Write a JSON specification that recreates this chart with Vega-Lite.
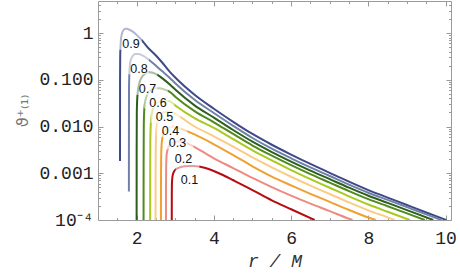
{
  "$schema": "https://vega.github.io/schema/vega-lite/v6.json",
  "autosize": "none",
  "width": 353,
  "height": 219,
  "padding": {"left": 98, "top": 1, "right": 9, "bottom": 53},
  "background": "white",
  "config": {
    "view": {"stroke": "#9a9a9a", "strokeWidth": 1},
    "axis": {"domain": false, "grid": false, "tickColor": "#9a9a9a", "tickWidth": 1}
  },
  "datasets": {
    "curves": [
      {"a": "0.9", "r": 1.57, "v": 0.00182}, {"a": "0.9", "r": 1.571, "v": 0.1}, {"a": "0.9", "r": 1.575, "v": 0.316}, {"a": "0.9", "r": 1.585, "v": 0.562}, {"a": "0.9", "r": 1.6, "v": 0.794}, {"a": "0.9", "r": 1.625, "v": 1.0}, {"a": "0.9", "r": 1.66, "v": 1.148}, {"a": "0.9", "r": 1.7, "v": 1.23}, {"a": "0.9", "r": 1.75, "v": 1.23}, {"a": "0.9", "r": 1.8, "v": 1.189}, {"a": "0.9", "r": 1.9, "v": 1.072}, {"a": "0.9", "r": 2.0, "v": 0.912}, {"a": "0.9", "r": 2.15, "v": 0.676}, {"a": "0.9", "r": 2.3, "v": 0.479}, {"a": "0.9", "r": 2.5, "v": 0.331}, {"a": "0.9", "r": 2.65, "v": 0.24}, {"a": "0.9", "r": 2.86, "v": 0.148}, {"a": "0.9", "r": 3.0, "v": 0.112}, {"a": "0.9", "r": 3.5, "v": 0.0479}, {"a": "0.9", "r": 4.0, "v": 0.024}, {"a": "0.9", "r": 4.5, "v": 0.0126}, {"a": "0.9", "r": 5.0, "v": 0.00692}, {"a": "0.9", "r": 5.5, "v": 0.00407}, {"a": "0.9", "r": 6.0, "v": 0.00251}, {"a": "0.9", "r": 6.5, "v": 0.00158}, {"a": "0.9", "r": 7.0, "v": 0.00102}, {"a": "0.9", "r": 7.5, "v": 0.000661}, {"a": "0.9", "r": 8.0, "v": 0.000437}, {"a": "0.9", "r": 8.5, "v": 0.000302}, {"a": "0.9", "r": 9.0, "v": 0.000209}, {"a": "0.9", "r": 9.5, "v": 0.000145}, {"a": "0.9", "r": 10.02, "v": 0.0001},
      {"a": "0.8", "r": 1.8, "v": 0.000407}, {"a": "0.8", "r": 1.801, "v": 0.01}, {"a": "0.8", "r": 1.803, "v": 0.0631}, {"a": "0.8", "r": 1.815, "v": 0.158}, {"a": "0.8", "r": 1.84, "v": 0.251}, {"a": "0.8", "r": 1.9, "v": 0.324}, {"a": "0.8", "r": 1.97, "v": 0.355}, {"a": "0.8", "r": 2.05, "v": 0.355}, {"a": "0.8", "r": 2.15, "v": 0.331}, {"a": "0.8", "r": 2.3, "v": 0.275}, {"a": "0.8", "r": 2.5, "v": 0.1995}, {"a": "0.8", "r": 2.65, "v": 0.155}, {"a": "0.8", "r": 2.86, "v": 0.1096}, {"a": "0.8", "r": 3.0, "v": 0.0841}, {"a": "0.8", "r": 3.5, "v": 0.0373}, {"a": "0.8", "r": 4.0, "v": 0.01945}, {"a": "0.8", "r": 4.5, "v": 0.01033}, {"a": "0.8", "r": 5.0, "v": 0.00568}, {"a": "0.8", "r": 5.5, "v": 0.00335}, {"a": "0.8", "r": 6.0, "v": 0.00209}, {"a": "0.8", "r": 6.5, "v": 0.001337}, {"a": "0.8", "r": 7.0, "v": 0.000875}, {"a": "0.8", "r": 7.5, "v": 0.000571}, {"a": "0.8", "r": 8.0, "v": 0.000383}, {"a": "0.8", "r": 8.5, "v": 0.000269}, {"a": "0.8", "r": 9.0, "v": 0.000188}, {"a": "0.8", "r": 9.5, "v": 0.000132}, {"a": "0.8", "r": 9.89, "v": 0.0001},
      {"a": "0.7", "r": 2.0, "v": 0.0001}, {"a": "0.7", "r": 2.001, "v": 0.00316}, {"a": "0.7", "r": 2.005, "v": 0.01995}, {"a": "0.7", "r": 2.02, "v": 0.0447}, {"a": "0.7", "r": 2.06, "v": 0.0794}, {"a": "0.7", "r": 2.13, "v": 0.112}, {"a": "0.7", "r": 2.22, "v": 0.135}, {"a": "0.7", "r": 2.32, "v": 0.1445}, {"a": "0.7", "r": 2.42, "v": 0.141}, {"a": "0.7", "r": 2.55, "v": 0.126}, {"a": "0.7", "r": 2.7, "v": 0.102}, {"a": "0.7", "r": 2.86, "v": 0.0794}, {"a": "0.7", "r": 3.0, "v": 0.0617}, {"a": "0.7", "r": 3.5, "v": 0.0284}, {"a": "0.7", "r": 4.0, "v": 0.0155}, {"a": "0.7", "r": 4.5, "v": 0.00841}, {"a": "0.7", "r": 5.0, "v": 0.00473}, {"a": "0.7", "r": 5.5, "v": 0.00284}, {"a": "0.7", "r": 6.0, "v": 0.00178}, {"a": "0.7", "r": 6.5, "v": 0.00114}, {"a": "0.7", "r": 7.0, "v": 0.000748}, {"a": "0.7", "r": 7.5, "v": 0.000491}, {"a": "0.7", "r": 8.0, "v": 0.00033}, {"a": "0.7", "r": 8.5, "v": 0.000232}, {"a": "0.7", "r": 9.0, "v": 0.000163}, {"a": "0.7", "r": 9.68, "v": 0.0001},
      {"a": "0.6", "r": 2.18, "v": 0.0001}, {"a": "0.6", "r": 2.181, "v": 0.00158}, {"a": "0.6", "r": 2.185, "v": 0.01}, {"a": "0.6", "r": 2.2, "v": 0.024}, {"a": "0.6", "r": 2.24, "v": 0.0398}, {"a": "0.6", "r": 2.31, "v": 0.0537}, {"a": "0.6", "r": 2.4, "v": 0.0631}, {"a": "0.6", "r": 2.5, "v": 0.0661}, {"a": "0.6", "r": 2.6, "v": 0.0661}, {"a": "0.6", "r": 2.72, "v": 0.0617}, {"a": "0.6", "r": 2.86, "v": 0.055}, {"a": "0.6", "r": 3.0, "v": 0.0434}, {"a": "0.6", "r": 3.5, "v": 0.0214}, {"a": "0.6", "r": 4.0, "v": 0.0123}, {"a": "0.6", "r": 4.5, "v": 0.00692}, {"a": "0.6", "r": 5.0, "v": 0.00392}, {"a": "0.6", "r": 5.5, "v": 0.00238}, {"a": "0.6", "r": 6.0, "v": 0.00149}, {"a": "0.6", "r": 6.5, "v": 0.000959}, {"a": "0.6", "r": 7.0, "v": 0.000631}, {"a": "0.6", "r": 7.5, "v": 0.000415}, {"a": "0.6", "r": 8.0, "v": 0.000279}, {"a": "0.6", "r": 8.5, "v": 0.000197}, {"a": "0.6", "r": 9.0, "v": 0.000139}, {"a": "0.6", "r": 9.46, "v": 0.0001},
      {"a": "0.5", "r": 2.35, "v": 0.0001}, {"a": "0.5", "r": 2.351, "v": 0.001}, {"a": "0.5", "r": 2.355, "v": 0.00501}, {"a": "0.5", "r": 2.37, "v": 0.0126}, {"a": "0.5", "r": 2.41, "v": 0.0219}, {"a": "0.5", "r": 2.48, "v": 0.0295}, {"a": "0.5", "r": 2.57, "v": 0.0339}, {"a": "0.5", "r": 2.67, "v": 0.0355}, {"a": "0.5", "r": 2.77, "v": 0.0355}, {"a": "0.5", "r": 2.86, "v": 0.0347}, {"a": "0.5", "r": 3.0, "v": 0.0282}, {"a": "0.5", "r": 3.5, "v": 0.0151}, {"a": "0.5", "r": 4.0, "v": 0.00933}, {"a": "0.5", "r": 4.5, "v": 0.00537}, {"a": "0.5", "r": 5.0, "v": 0.00309}, {"a": "0.5", "r": 5.5, "v": 0.00189}, {"a": "0.5", "r": 6.0, "v": 0.00117}, {"a": "0.5", "r": 6.5, "v": 0.00075}, {"a": "0.5", "r": 7.0, "v": 0.00049}, {"a": "0.5", "r": 7.5, "v": 0.00032}, {"a": "0.5", "r": 8.0, "v": 0.000214}, {"a": "0.5", "r": 8.5, "v": 0.00015}, {"a": "0.5", "r": 9.07, "v": 0.0001},
      {"a": "0.4", "r": 2.49, "v": 0.0001}, {"a": "0.4", "r": 2.491, "v": 0.000794}, {"a": "0.4", "r": 2.495, "v": 0.00316}, {"a": "0.4", "r": 2.51, "v": 0.00794}, {"a": "0.4", "r": 2.55, "v": 0.0135}, {"a": "0.4", "r": 2.62, "v": 0.0178}, {"a": "0.4", "r": 2.71, "v": 0.01995}, {"a": "0.4", "r": 2.8, "v": 0.0209}, {"a": "0.4", "r": 2.9, "v": 0.0204}, {"a": "0.4", "r": 3.0, "v": 0.0186}, {"a": "0.4", "r": 3.5, "v": 0.01}, {"a": "0.4", "r": 4.0, "v": 0.00617}, {"a": "0.4", "r": 4.5, "v": 0.00372}, {"a": "0.4", "r": 5.0, "v": 0.00219}, {"a": "0.4", "r": 5.5, "v": 0.001337}, {"a": "0.4", "r": 6.0, "v": 0.000843}, {"a": "0.4", "r": 6.5, "v": 0.000545}, {"a": "0.4", "r": 7.0, "v": 0.00036}, {"a": "0.4", "r": 7.5, "v": 0.000238}, {"a": "0.4", "r": 8.0, "v": 0.000161}, {"a": "0.4", "r": 8.5, "v": 0.000114}, {"a": "0.4", "r": 8.68, "v": 0.0001},
      {"a": "0.3", "r": 2.63, "v": 0.0001}, {"a": "0.3", "r": 2.631, "v": 0.000631}, {"a": "0.3", "r": 2.635, "v": 0.002}, {"a": "0.3", "r": 2.65, "v": 0.00447}, {"a": "0.3", "r": 2.7, "v": 0.00724}, {"a": "0.3", "r": 2.77, "v": 0.00891}, {"a": "0.3", "r": 2.86, "v": 0.00977}, {"a": "0.3", "r": 2.95, "v": 0.01}, {"a": "0.3", "r": 3.05, "v": 0.00955}, {"a": "0.3", "r": 3.5, "v": 0.00676}, {"a": "0.3", "r": 4.0, "v": 0.00417}, {"a": "0.3", "r": 4.5, "v": 0.00245}, {"a": "0.3", "r": 5.0, "v": 0.00141}, {"a": "0.3", "r": 5.5, "v": 0.000851}, {"a": "0.3", "r": 6.0, "v": 0.00055}, {"a": "0.3", "r": 6.5, "v": 0.000363}, {"a": "0.3", "r": 7.0, "v": 0.000244}, {"a": "0.3", "r": 7.5, "v": 0.000164}, {"a": "0.3", "r": 8.0, "v": 0.000113}, {"a": "0.3", "r": 8.19, "v": 0.0001},
      {"a": "0.2", "r": 2.76, "v": 0.0001}, {"a": "0.2", "r": 2.761, "v": 0.000501}, {"a": "0.2", "r": 2.765, "v": 0.00141}, {"a": "0.2", "r": 2.78, "v": 0.00263}, {"a": "0.2", "r": 2.83, "v": 0.00372}, {"a": "0.2", "r": 2.9, "v": 0.00437}, {"a": "0.2", "r": 3.0, "v": 0.00468}, {"a": "0.2", "r": 3.12, "v": 0.00479}, {"a": "0.2", "r": 3.25, "v": 0.00457}, {"a": "0.2", "r": 3.5, "v": 0.00363}, {"a": "0.2", "r": 4.0, "v": 0.00209}, {"a": "0.2", "r": 4.5, "v": 0.00129}, {"a": "0.2", "r": 5.0, "v": 0.000794}, {"a": "0.2", "r": 5.5, "v": 0.000505}, {"a": "0.2", "r": 6.0, "v": 0.000331}, {"a": "0.2", "r": 6.5, "v": 0.000224}, {"a": "0.2", "r": 7.0, "v": 0.000155}, {"a": "0.2", "r": 7.5, "v": 0.000106}, {"a": "0.2", "r": 7.59, "v": 0.0001},
      {"a": "0.1", "r": 2.91, "v": 0.0001}, {"a": "0.1", "r": 2.911, "v": 0.000316}, {"a": "0.1", "r": 2.915, "v": 0.000631}, {"a": "0.1", "r": 2.94, "v": 0.000955}, {"a": "0.1", "r": 3.0, "v": 0.001175}, {"a": "0.1", "r": 3.1, "v": 0.001318}, {"a": "0.1", "r": 3.25, "v": 0.001413}, {"a": "0.1", "r": 3.45, "v": 0.001429}, {"a": "0.1", "r": 3.65, "v": 0.00138}, {"a": "0.1", "r": 3.9, "v": 0.0012}, {"a": "0.1", "r": 4.16, "v": 0.000977}, {"a": "0.1", "r": 4.5, "v": 0.000708}, {"a": "0.1", "r": 5.0, "v": 0.000437}, {"a": "0.1", "r": 5.5, "v": 0.000263}, {"a": "0.1", "r": 6.0, "v": 0.00017}, {"a": "0.1", "r": 6.61, "v": 0.0001}
    ],
    "labels": [
      {"a": "0.9", "r": 1.854, "v": 0.582},
      {"a": "0.8", "r": 2.061, "v": 0.174},
      {"a": "0.7", "r": 2.281, "v": 0.0634},
      {"a": "0.6", "r": 2.552, "v": 0.0326},
      {"a": "0.5", "r": 2.72, "v": 0.01596},
      {"a": "0.4", "r": 2.876, "v": 0.00801},
      {"a": "0.3", "r": 3.057, "v": 0.00433},
      {"a": "0.2", "r": 3.212, "v": 0.00202},
      {"a": "0.1", "r": 3.367, "v": 0.000735}
    ],
    "halos": [
      {"a": "0.9", "r": 1.828, "v": 0.782},
      {"a": "0.8", "r": 2.01, "v": 0.234},
      {"a": "0.7", "r": 2.23, "v": 0.0851},
      {"a": "0.6", "r": 2.501, "v": 0.0438},
      {"a": "0.5", "r": 2.67, "v": 0.0215},
      {"a": "0.4", "r": 2.825, "v": 0.01076},
      {"a": "0.3", "r": 3.006, "v": 0.00582},
      {"a": "0.2", "r": 3.162, "v": 0.00271},
      {"a": "0.1", "r": 3.317, "v": 0.000988}
    ]
  },
  "resolve": {"axis": {"x": "independent", "y": "independent"}},
  "layer": [
    {
      "data": {"name": "curves"},
      "mark": {"type": "line", "strokeWidth": 2, "clip": true, "interpolate": "monotone"},
      "encoding": {
        "x": {"field": "r", "type": "quantitative",
              "scale": {"domain": [1, 10.14], "nice": false, "zero": false},
              "axis": {"orient": "bottom", "values": [2, 4, 6, 8, 10], "tickSize": -5, "labelPadding": 14,
                       "labelFont": "Liberation Mono", "labelFontSize": 18, "labelColor": "#222",
                       "title": "r / M", "titleFont": "Liberation Mono", "titleFontStyle": "italic", "titleFontWeight": "normal",
                       "titleFontSize": 18, "titleColor": "#333", "titlePadding": 5}},
        "y": {"field": "v", "type": "quantitative",
              "scale": {"type": "log", "domain": [0.0001, 4.84], "nice": false},
              "axis": {"orient": "left", "values": [0.0001, 0.001, 0.01, 0.1, 1], "tickSize": -5, "labelPadding": 10,
                       "labelFont": "Liberation Mono", "labelFontSize": 18, "labelColor": "#222",
                       "labelExpr": "datum.value >= 0.99 ? '1' : datum.value >= 0.099 ? '0.100' : datum.value >= 0.0099 ? '0.010' : datum.value >= 0.00099 ? '0.001' : '10⁻⁴'",
                       "title": "ϑ⁺₍₁₎", "titleFont": "DejaVu Sans", "titleFontWeight": "normal", "titleFontSize": 16,
                       "titleColor": "#777", "titlePadding": 8}},
        "color": {"field": "a", "type": "nominal", "legend": null,
                  "scale": {"domain": ["0.1", "0.2", "0.3", "0.4", "0.5", "0.6", "0.7", "0.8", "0.9"],
                            "range": ["#b40c10", "#ef8a80", "#f0a030", "#fccb85", "#aac820", "#4f8a1c", "#2d5e1e", "#7080a8", "#3e4a88"]}}
      }
    },
    {
      "data": {"name": "halos"},
      "mark": {"type": "point", "shape": "square", "filled": true, "size": 560, "color": "white", "opacity": 0.6, "strokeWidth": 0},
      "encoding": {
        "x": {"field": "r", "type": "quantitative", "axis": null},
        "y": {"field": "v", "type": "quantitative", "axis": null}
      }
    },
    {
      "data": {"name": "labels"},
      "mark": {"type": "text", "font": "Liberation Sans", "fontSize": 12.5, "color": "#111"},
      "encoding": {
        "x": {"field": "r", "type": "quantitative",
              "axis": {"orient": "bottom", "values": [1.5, 2.5, 3, 3.5, 4.5, 5, 5.5, 6.5, 7, 7.5, 8.5, 9, 9.5], "tickSize": -2.5, "labels": false, "title": null}},
        "y": {"field": "v", "type": "quantitative",
              "axis": {"orient": "left", "values": [0.0002, 0.0003, 0.0004, 0.0005, 0.0006, 0.0007, 0.0008, 0.0009, 0.002, 0.003, 0.004, 0.005, 0.006, 0.007, 0.008, 0.009, 0.02, 0.03, 0.04, 0.05, 0.06, 0.07, 0.08, 0.09, 0.2, 0.3, 0.4, 0.5, 0.6, 0.7, 0.8, 0.9, 2, 3, 4], "tickSize": -2.5, "labels": false, "title": null}},
        "text": {"field": "a"}
      }
    },
    {
      "data": {"name": "labels"},
      "mark": {"type": "point", "opacity": 0},
      "encoding": {
        "x": {"field": "r", "type": "quantitative",
              "axis": {"orient": "top", "values": [2, 4, 6, 8, 10], "tickSize": -5, "labels": false, "title": null}},
        "y": {"field": "v", "type": "quantitative",
              "axis": {"orient": "right", "values": [0.0001, 0.001, 0.01, 0.1, 1], "tickSize": -5, "labels": false, "title": null}}
      }
    },
    {
      "data": {"name": "labels"},
      "mark": {"type": "point", "opacity": 0},
      "encoding": {
        "x": {"field": "r", "type": "quantitative",
              "axis": {"orient": "top", "values": [1.5, 2.5, 3, 3.5, 4.5, 5, 5.5, 6.5, 7, 7.5, 8.5, 9, 9.5], "tickSize": -2.5, "labels": false, "title": null}},
        "y": {"field": "v", "type": "quantitative",
              "axis": {"orient": "right", "values": [0.0002, 0.0003, 0.0004, 0.0005, 0.0006, 0.0007, 0.0008, 0.0009, 0.002, 0.003, 0.004, 0.005, 0.006, 0.007, 0.008, 0.009, 0.02, 0.03, 0.04, 0.05, 0.06, 0.07, 0.08, 0.09, 0.2, 0.3, 0.4, 0.5, 0.6, 0.7, 0.8, 0.9, 2, 3, 4], "tickSize": -2.5, "labels": false, "title": null}}
      }
    }
  ]
}
